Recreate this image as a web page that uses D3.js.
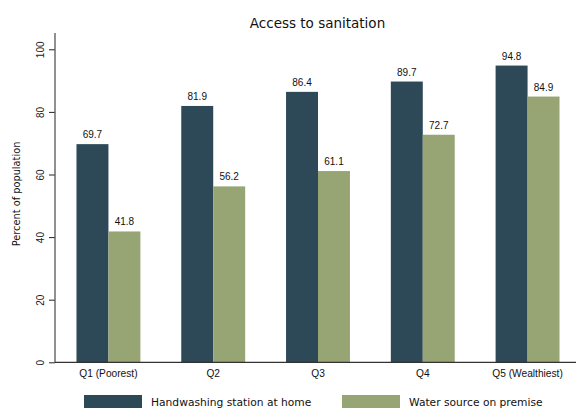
<!DOCTYPE html>
<html>
<head>
<meta charset="utf-8">
<script src="https://cdn.jsdelivr.net/npm/d3@7"></script>
<style>
  body { margin: 0; background: #fff; }
  svg { font-family: "DejaVu Sans", sans-serif; }
  .val { font-family: "Liberation Sans", Arial, sans-serif; }
</style>
</head>
<body>
<div id="chart"></div>
<script>
// data
var quintiles = ["Q1 (Poorest)", "Q2", "Q3", "Q4", "Q5 (Wealthiest)"];
var handwashing = [69.7, 81.9, 86.4, 89.7, 94.8];
var waterSource = [41.8, 56.2, 61.1, 72.7, 84.9];
var seriesNames = ["Handwashing station at home", "Water source on premise"];
var seriesColours = ["#2d4856", "#97a574"];
var yTicks = [0, 20, 40, 60, 80, 100];

var width = 576, height = 408;
var svg = d3.select("#chart").append("svg")
    .attr("width", width).attr("height", height);

var x0 = 55, yBottom = 362.3;

var x = d3.scaleBand()
    .domain(quintiles)
    .range([x0, 581])
    .paddingInner(0.39)
    .paddingOuter(0.205);

var xSub = d3.scaleBand()
    .domain([0, 1])
    .range([0, x.bandwidth()]);

var y = d3.scaleLinear()
    .domain([0, 100])
    .range([yBottom, 49.3]);

// title
svg.append("text")
    .attr("x", 317.5).attr("y", 28.3)
    .attr("text-anchor", "middle")
    .style("font-size", "13.5px")
    .attr("fill", "#111")
    .text("Access to sanitation");

// bars
var rows = quintiles.map(function(q, i) {
  return { q: q, vals: [handwashing[i], waterSource[i]] };
});

var group = svg.append("g").selectAll("g")
    .data(rows)
    .enter().append("g")
    .attr("transform", function(d) { return "translate(" + x(d.q) + ",0)"; });

group.selectAll("rect")
    .data(function(d) { return d.vals; })
    .enter().append("rect")
    .attr("x", function(d, i) { return xSub(i); })
    .attr("width", xSub.bandwidth())
    .attr("y", function(d) { return y(d); })
    .attr("height", function(d) { return yBottom - y(d); })
    .attr("fill", function(d, i) { return seriesColours[i]; });

group.selectAll("text")
    .data(function(d) { return d.vals; })
    .enter().append("text")
    .attr("class", "val")
    .attr("x", function(d, i) { return xSub(i) + xSub.bandwidth() / 2; })
    .attr("y", function(d) { return y(d) - 6; })
    .attr("text-anchor", "middle")
    .style("font-size", "10px")
    .attr("fill", "#111")
    .text(function(d) { return d.toFixed(1); });

// y axis
var yAxis = svg.append("g")
    .attr("transform", "translate(" + x0 + ",0)")
    .call(d3.axisLeft(y).tickValues(yTicks).tickSize(6).tickSizeOuter(0));
yAxis.select(".domain").remove();
yAxis.append("line")
    .attr("x1", 0).attr("x2", 0)
    .attr("y1", 33).attr("y2", yBottom)
    .attr("stroke", "#555").attr("stroke-width", 1.3);
yAxis.selectAll(".tick line").attr("stroke", "#222");
yAxis.selectAll(".tick text")
    .attr("transform", "rotate(-90)")
    .attr("x", 0).attr("y", -15)
    .attr("dy", "0.35em")
    .attr("text-anchor", "middle")
    .style("font-size", "10px")
    .attr("fill", "#222");

svg.append("text")
    .attr("transform", "translate(19.5," + 194 + ") rotate(-90)")
    .attr("text-anchor", "middle")
    .style("font-size", "9.8px")
    .attr("fill", "#111")
    .text("Percent of population");

// x axis
var xAxis = svg.append("g")
    .attr("transform", "translate(0," + yBottom + ")")
    .call(d3.axisBottom(x).tickSize(0).tickSizeOuter(0));
xAxis.select(".domain").remove();
xAxis.append("line")
    .attr("x1", x0).attr("x2", width)
    .attr("stroke", "#333").attr("stroke-width", 1.3);
xAxis.selectAll(".tick text")
    .attr("y", 7.5)
    .style("font-size", "10.2px")
    .attr("fill", "#111");

// legend
var legendX = [84, 342];
var legend = svg.append("g").selectAll("g")
    .data(seriesNames)
    .enter().append("g")
    .attr("transform", function(d, i) { return "translate(" + legendX[i] + ",395)"; });
legend.append("rect")
    .attr("width", 58).attr("height", 20)
    .attr("fill", function(d, i) { return seriesColours[i]; });
legend.append("text")
    .attr("x", 67).attr("y", 10.7)
    .style("font-size", "10.7px")
    .attr("fill", "#111")
    .text(function(d) { return d; });
</script>
</body>
</html>
